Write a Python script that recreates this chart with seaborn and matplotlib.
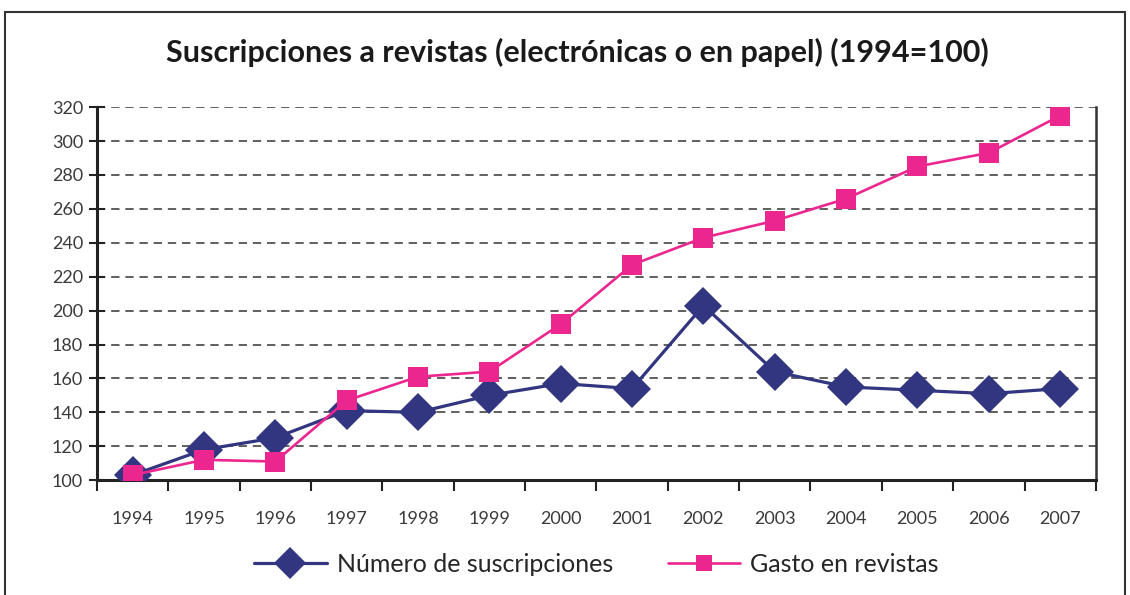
import numpy as np
import pandas as pd
import matplotlib.pyplot as plt
import seaborn as sns
from matplotlib.patches import Rectangle
from matplotlib.ticker import FixedLocator

# ── data ──
years = ['1994', '1995', '1996', '1997', '1998', '1999', '2000',
         '2001', '2002', '2003', '2004', '2005', '2006', '2007']
suscripciones = [103, 118, 125, 141, 140, 150, 157, 154, 203, 164, 155, 153, 151, 154]
gasto = [103, 112, 111, 147, 161, 164, 192, 227, 243, 253, 266, 285, 293, 315]
yticks = list(range(100, 321, 20))

label_sus = 'Número de suscripciones'
label_gas = 'Gasto en revistas'
title = 'Suscripciones a revistas (electrónicas o en papel) (1994=100)'

sns.set_style('white')
plt.rcParams['font.family'] = ['Lato', 'DejaVu Sans']

pos = np.arange(len(years))
df_sus = pd.DataFrame({'pos': pos, 'valor': suscripciones})
df_gas = pd.DataFrame({'pos': pos, 'valor': gasto})

fig = plt.figure(figsize=(11.3, 5.95), dpi=100)
ax = fig.add_axes([0.0858, 0.193, 0.884, 0.627])

sns.lineplot(data=df_sus, x='pos', y='valor', ax=ax, color='#32357F', linewidth=2.3,
             marker='D', markersize=19, markeredgewidth=0, label=label_sus, zorder=3)
sns.lineplot(data=df_gas, x='pos', y='valor', ax=ax, color='#EC268F', linewidth=1.9,
             marker='s', markersize=14, markeredgewidth=0, label=label_gas, zorder=4)

ax.set_xlim(-0.5, len(years) - 0.5)
ax.set_ylim(100, 320)
ax.set_xlabel('')
ax.set_ylabel('')

# x: labels centred, tick marks on the category boundaries
ax.set_xticks(pos)
ax.set_xticklabels(years)
ax.xaxis.set_minor_locator(FixedLocator(np.arange(-0.5, len(years), 1.0)))
ax.tick_params(axis='x', which='major', length=0, pad=22, labelsize=13, labelcolor='#3a3a3a')
ax.tick_params(axis='x', which='minor', direction='out', length=8, width=1.5, color='#222222', bottom=True)

ax.set_yticks(yticks)
ax.tick_params(axis='y', direction='inout', length=12, width=1.5, color='#222222',
               labelsize=13, labelcolor='#3a3a3a', left=True, pad=4)

ax.grid(axis='y', linestyle=(0, (5, 3.5)), color='#444444', linewidth=1.2)
ax.set_axisbelow(True)

for side in ['left', 'bottom']:
    ax.spines[side].set_color('#222222')
    ax.spines[side].set_linewidth(2.2)
ax.spines['right'].set_color('#333333')
ax.spines['right'].set_linewidth(1.8)
ax.spines['top'].set_visible(False)

fig.text(0.511, 0.912, title, ha='center', va='center', fontsize=22,
         fontweight='bold', color='#1a1a1a')

ax.legend(loc='upper center', bbox_to_anchor=(0.5, -0.135), ncol=2, frameon=False,
          fontsize=18, handlelength=2.9, columnspacing=2.2, handletextpad=0.4,
          markerscale=0.85)

# outer frame of the figure
fig.patches.append(Rectangle((5 / 1130, -0.05), 1120 / 1130, 1 - 12 / 595 + 0.05,
                             transform=fig.transFigure, fill=False,
                             edgecolor='#333333', linewidth=1.5))

fig.savefig('out.png', dpi=100)
